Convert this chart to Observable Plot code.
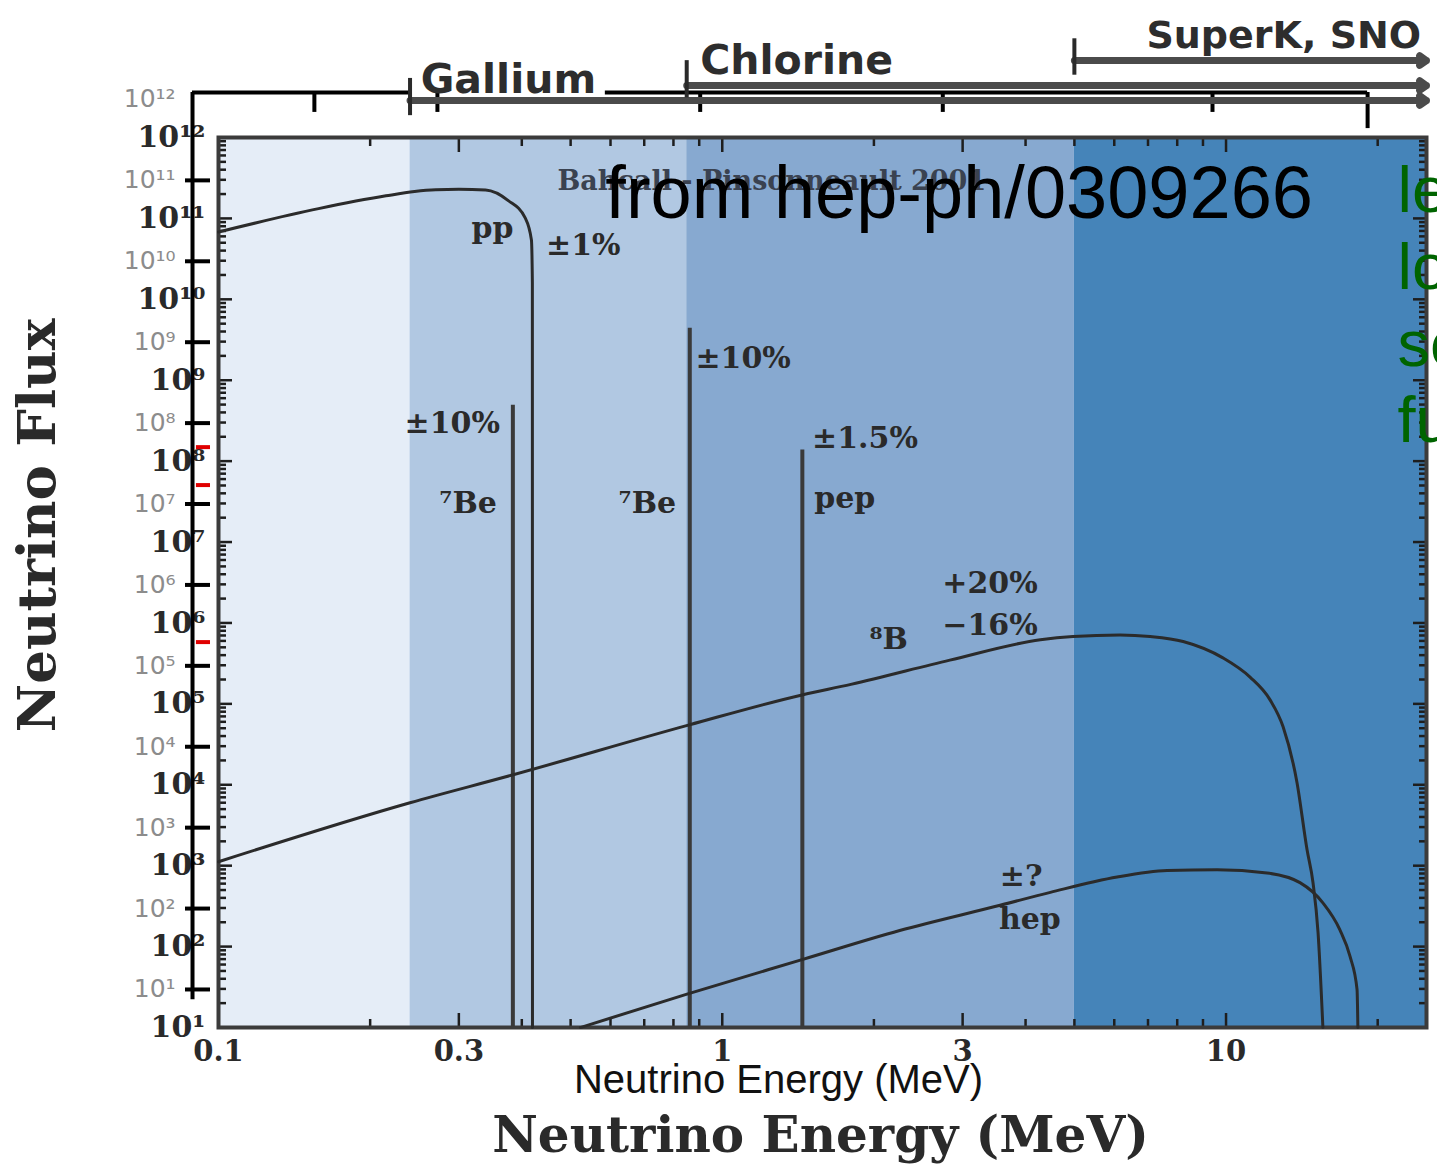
<!DOCTYPE html>
<html><head><meta charset="utf-8">
<script src="https://cdn.jsdelivr.net/npm/d3@7"></script>
<script src="https://cdn.jsdelivr.net/npm/@observablehq/plot@0.6"></script>
<style>
html,body{margin:0;padding:0;background:#fff;overflow:hidden;}
#chart svg{display:block;}
</style></head><body><div id="chart"></div>
<script>
// ---------------- data ----------------
const energyDomain = [0.1, 25];          // MeV
const fluxDomain = [1e1, 1e12];

const detectorNames = ["Gallium", "Chlorine", "SuperK, SNO"];
const detectorThresholds = [0.24, 0.85, 5.0]; // MeV
const bandColors = ["#e5edf7", "#b1c8e2", "#87a9d0", "#4584b9"];

const ppEnergy = [0.1, 0.158, 0.215, 0.245, 0.27, 0.30, 0.339, 0.376, 0.406, 0.418, 0.4198, 0.42];
const ppFlux   = [6.8e10, 1.32e11, 1.9e11, 2.15e11, 2.26e11, 2.29e11, 2.24e11, 1.66e11, 1.02e11, 5.4e10, 1.6e10, 10];

const b8Energy = [0.1, 0.24, 0.383, 0.86, 1.44, 1.80, 2.83, 4.28, 4.97, 6.16, 7.07, 8.22, 9.86, 11.16, 12.23, 12.98, 13.83, 14.48, 14.88, 15.23, 15.57];
const b8Flux   = [1.12e3, 6.0e3, 1.32e4, 5.5e4, 1.29e5, 1.74e5, 3.47e5, 6.2e5, 6.8e5, 7.1e5, 6.8e5, 5.9e5, 3.7e5, 2.14e5, 1.12e5, 5.2e4, 1.07e4, 1.58e3, 6.2e2, 1.48e2, 10];

const hepEnergy = [0.523, 0.848, 1.44, 2.25, 3.56, 4.48, 6.08, 7.64, 9.60, 12.06, 14.02, 15.57, 16.82, 17.62, 18.20, 18.27];
const hepFlux   = [10, 25.7, 69, 158, 324, 468, 724, 870, 891, 813, 617, 347, 162, 76, 29.5, 10];

const lineNames  = ["7Be", "7Be", "pep"];
const lineEnergy = [0.384, 0.862, 1.442];
const lineFlux   = [4.9e8, 4.4e9, 1.37e8];

const annoText   = ["pp", "±1%", "±10%", "⁷Be", "⁷Be", "±10%", "±1.5%", "pep", "+20%", "−16%", "⁸B", "±?", "hep"];
const annoEnergy = [0.35, 0.53, 0.291, 0.313, 0.71, 1.10, 1.92, 1.75, 3.40, 3.40, 2.14, 3.92, 4.08];
const annoFlux   = [7.5e10, 4.6e10, 2.9e8, 3.0e7, 3.0e7, 1.87e9, 1.92e8, 3.5e7, 3.1e6, 9.4e5, 6.2e5, 731, 215];

const yMajor = d3.range(1, 13).map(k => 10 ** k);
const yMinor = d3.range(1, 12).flatMap(k => d3.range(2, 10).map(m => m * 10 ** k));
const xMajor = [0.1, 0.3, 1, 3, 10];
const xMinor = [0.2, 0.4, 0.5, 0.6, 0.7, 0.8, 0.9, 2, 4, 5, 6, 7, 8, 9, 20];
const xLabels = [0.1, 0.3, 1, 3, 10];
const outerExponents = d3.range(1, 13);
const topTickEnergy = [0.155, 0.272, 0.904, 2.74, 9.4];
const greenLines = ["left", "log", "solar", "fusion"];

// ---------------- helpers & layout ----------------
const SUP = "⁰¹²³⁴⁵⁶⁷⁸⁹";
const sup = n => String(n).split("").map(c => SUP[+c]).join("");
const serif = "DejaVu Serif, serif";
const sans = "Liberation Sans, Arial, sans-serif";
const bandEdges = [energyDomain[0], ...detectorThresholds, energyDomain[1]];

// detector range rows (log10 flux units above the frame)
const detRow = [12.457, 12.642, 12.951];
const bracketLo = [12.27, 12.49, 12.77];
const bracketHi = [12.73, 12.95, 13.22];
const detLabelE = [0.252, 0.904, 6.95];
const detLabelLog = [12.556, 12.79, 13.111];
const outerAxisE = 0.0888, topLineF = 10 ** 12.556;

const tickStyle = {stroke: "#1e1e1e", strokeWidth: 2.5, fill: "none", label: null};

const chart = Plot.plot({
  width: 1437, height: 1166,
  marginLeft: 218, marginRight: 11, marginTop: 137, marginBottom: 139,
  x: {type: "log", domain: energyDomain},
  y: {type: "log", domain: fluxDomain},
  color: {type: "identity"},
  style: {background: "white", overflow: "hidden"},
  marks: [
    // detector sensitivity bands
    Plot.rect(d3.range(bandColors.length), {x1: i => bandEdges[i], x2: i => bandEdges[i + 1], fill: i => bandColors[i]}),
    // inner ticks on all four sides
    Plot.axisX(xMinor, {anchor: "bottom", tickSize: 8, dy: -8, ...tickStyle}),
    Plot.axisX(xMajor, {anchor: "bottom", tickSize: 14, dy: -14, ...tickStyle}),
    Plot.axisX(xMinor, {anchor: "top", tickSize: 8, dy: 8, ...tickStyle}),
    Plot.axisX(xMajor, {anchor: "top", tickSize: 14, dy: 14, ...tickStyle}),
    Plot.axisY(yMinor, {anchor: "left", tickSize: 8, dx: 8, ...tickStyle}),
    Plot.axisY(yMajor, {anchor: "left", tickSize: 14, dx: 14, ...tickStyle}),
    Plot.axisY(yMinor, {anchor: "right", tickSize: 8, dx: -8, ...tickStyle}),
    Plot.axisY(yMajor, {anchor: "right", tickSize: 14, dx: -14, ...tickStyle}),
    Plot.frame({stroke: "#3b3b3b", strokeWidth: 4}),
    // tick labels
    Plot.axisY(yMajor, {anchor: "left", tickSize: 0, tickPadding: 13, label: null,
      tickFormat: d => "10" + sup(Math.round(Math.log10(d))),
      fontSize: 30, fontFamily: serif, fontWeight: "bold", fill: "#2a2a2a"}),
    Plot.axisX(xLabels, {anchor: "bottom", tickSize: 0, tickPadding: 13, label: null,
      tickFormat: d => String(d), fontSize: 29, fontFamily: serif, fontWeight: "bold", fill: "#2a2a2a"}),
    // line sources
    Plot.ruleX(d3.range(lineNames.length), {x: i => lineEnergy[i], y1: () => fluxDomain[0], y2: i => lineFlux[i], stroke: "#3a3a3a", strokeWidth: 4}),
    // continuum spectra
    Plot.line(d3.range(ppEnergy.length), {x: i => ppEnergy[i], y: i => ppFlux[i], stroke: "#2b2b2b", strokeWidth: 3, curve: "monotone-x"}),
    Plot.line(d3.range(b8Energy.length), {x: i => b8Energy[i], y: i => b8Flux[i], stroke: "#2b2b2b", strokeWidth: 3, curve: "monotone-x"}),
    Plot.line(d3.range(hepEnergy.length), {x: i => hepEnergy[i], y: i => hepFlux[i], stroke: "#2b2b2b", strokeWidth: 3, curve: "monotone-x"}),
    // annotations
    Plot.text(["Bahcall - Pinsonneault 2001"], {x: () => 0.471, y: () => 2.9e11, text: d => d, textAnchor: "start",
      fontSize: 27, fontFamily: serif, fontWeight: "bold", fill: "#3a4250"}),
    Plot.text(d3.range(annoText.length), {x: i => annoEnergy[i], y: i => annoFlux[i], text: i => annoText[i],
      fontSize: 30, fontFamily: serif, fontWeight: "bold", fill: "#2a2a2a"}),
    // axis titles
    Plot.text(["Neutrino Energy (MeV)"], {frameAnchor: "bottom", dx: -44, dy: 53, text: d => d,
      textAnchor: "middle", lineAnchor: "middle", fontSize: 40, fontFamily: sans, fill: "#111"}),
    Plot.text(["Neutrino Energy (MeV)"], {frameAnchor: "bottom", dx: -2, dy: 108, text: d => d,
      textAnchor: "middle", lineAnchor: "middle", fontSize: 50, fontFamily: serif, fontWeight: "bold", fill: "#2a2a2a"}),
    Plot.text(["Neutrino Flux"], {frameAnchor: "left", dx: -180, dy: -57, rotate: -90, text: d => d,
      textAnchor: "middle", lineAnchor: "middle", fontSize: 53, fontFamily: serif, fontWeight: "bold", fill: "#2a2a2a"}),
    // outer (original) flux axis
    Plot.ruleX([outerAxisE], {x: d => d, y1: () => 22, y2: () => topLineF, stroke: "black", strokeWidth: 4}),
    Plot.ruleY(outerExponents.slice(0, 11), {y: k => 10 ** (k + 0.47), x1: () => 0.086, x2: () => 0.0964, stroke: "black", strokeWidth: 4}),
    Plot.text(outerExponents, {x: () => 0.0822, y: k => 10 ** (k + 0.47), text: k => "10" + sup(k), textAnchor: "end",
      fontSize: 25, fontFamily: "DejaVu Sans, sans-serif", fill: "#8c8c8c"}),
    Plot.ruleY([1.49e8, 5.06e7, 5.8e5], {y: d => d, x1: () => 0.0904, x2: () => 0.0964, stroke: "#e00000", strokeWidth: 4}),
    // outer top axis line and ticks
    Plot.ruleY([[outerAxisE, detectorThresholds[0]], [0.586, 19.1]], {y: () => topLineF, x1: d => d[0], x2: d => d[1], stroke: "black", strokeWidth: 4}),
    Plot.ruleX(topTickEnergy, {x: d => d, y1: () => topLineF, y2: () => 10 ** 12.31, stroke: "black", strokeWidth: 4}),
    Plot.ruleX([19.1], {x: d => d, y1: () => topLineF, y2: () => 10 ** 12.11, stroke: "black", strokeWidth: 4}),
    // detector ranges
    Plot.arrow(d3.range(detectorNames.length), {x1: i => detectorThresholds[i], x2: () => energyDomain[1],
      y1: i => 10 ** detRow[i], y2: i => 10 ** detRow[i], stroke: "#4b4b4b", strokeWidth: 7, headLength: 1.8, headAngle: 70}),
    Plot.ruleX(d3.range(detectorNames.length), {x: i => detectorThresholds[i], y1: i => 10 ** bracketLo[i], y2: i => 10 ** bracketHi[i],
      stroke: "#2a2a2a", strokeWidth: 4}),
    Plot.text(d3.range(detectorNames.length), {x: i => detLabelE[i], y: i => 10 ** detLabelLog[i], text: i => detectorNames[i],
      textAnchor: "start", lineAnchor: "bottom", fontSize: i => i === 2 ? 38 : 41, fontFamily: "DejaVu Sans, sans-serif", fontWeight: "bold", fill: "#2d2d2d"}),
    // overlaid texts
    Plot.text(["from hep-ph/0309266"], {x: () => 0.586, y: () => 1e11, text: d => d, textAnchor: "start", lineAnchor: "bottom",
      fontSize: 74, fontFamily: sans, fill: "black"}),
    Plot.text(greenLines, {x: () => 21.9, y: (d, i) => 10 ** (11.074 - 0.946 * i), text: d => d, textAnchor: "start", lineAnchor: "bottom",
      fontSize: 65, fontFamily: sans, fill: "#006400"})
  ]
});
document.getElementById("chart").appendChild(chart);
</script>
</body></html>
